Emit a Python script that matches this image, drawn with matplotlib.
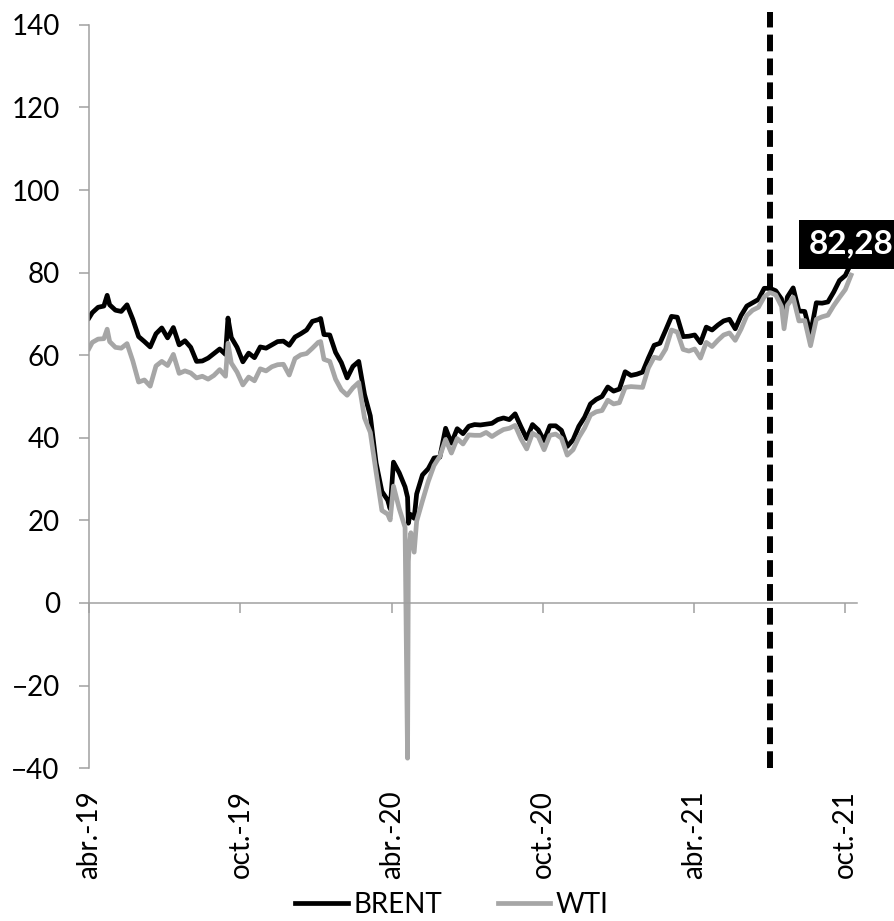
import numpy as np
import pandas as pd
import matplotlib
matplotlib.use("Agg")
from matplotlib import pyplot as plt

plt.rcParams['font.family'] = ['Lato', 'DejaVu Sans']

# weekly closes (Fridays), 2019-04-05 .. 2021-10-08
brent_weekly = [
    70.3, 71.6, 71.9, 72.2,              # abr 19
    70.9, 70.6, 72.2, 68.7, 64.5,        # may
    63.3, 62.0, 65.2, 66.6,              # jun
    64.2, 66.7, 62.5, 63.5,              # jul
    61.9, 58.5, 58.6, 59.3, 60.4,        # ago
    61.5, 60.2, 64.3, 61.9,              # sep
    58.4, 60.5, 59.4, 62.0,              # oct
    61.7, 62.5, 63.3, 63.4, 62.4,        # nov
    64.4, 65.2, 66.1, 68.2,              # dic
    68.6, 65.0, 64.9, 60.7, 58.2,        # ene 20
    54.5, 57.3, 58.5, 50.5,              # feb
    45.3, 33.9, 27.0, 24.9,              # mar
    34.1, 31.5, 28.1, 21.4,              # abr
    26.4, 31.0, 32.5, 35.1, 35.3,        # may
    42.3, 38.7, 42.2, 41.0,              # jun
    42.8, 43.2, 43.1, 43.3, 43.5,        # jul
    44.4, 44.8, 44.4, 45.8,              # ago
    42.7, 39.8, 43.2, 41.9,              # sep
    39.3, 42.9, 42.9, 41.8, 37.9,        # oct
    39.5, 42.8, 45.0, 48.2,              # nov
    49.3, 50.0, 52.3, 51.3,              # dic
    51.8, 56.0, 55.1, 55.4, 55.9,        # ene 21
    59.3, 62.4, 62.9, 66.1,              # feb
    69.4, 69.2, 64.5, 64.6,              # mar
    64.9, 63.0, 66.8, 66.1, 67.3,        # abr
    68.3, 68.7, 66.4, 69.6,              # may
    71.9, 72.7, 73.5, 76.2,              # jun
    76.2, 75.6, 73.6, 74.1, 76.3,        # jul
    70.7, 70.6, 65.2, 72.7,              # ago
    72.6, 72.9, 75.3, 78.1,              # sep
    79.3, 82.28,                         # oct
]
wti_weekly = [
    63.1, 63.9, 64.0, 63.3,
    61.9, 61.7, 62.8, 58.6, 53.5,
    54.0, 52.5, 57.4, 58.5,
    57.5, 60.2, 55.6, 56.2,
    55.7, 54.5, 54.9, 54.2, 55.1,
    56.5, 54.9, 58.1, 55.9,
    52.8, 54.7, 53.8, 56.7,
    56.2, 57.2, 57.7, 57.8, 55.2,
    59.2, 60.1, 60.4, 61.7,
    63.1, 59.0, 58.5, 54.2, 51.6,
    50.3, 52.1, 53.4, 44.8,
    41.3, 31.7, 22.4, 21.5,
    28.3, 22.8, 18.3, 17.0,
    19.8, 24.7, 29.4, 33.3, 35.5,
    39.6, 36.3, 39.8, 38.5,
    40.7, 40.6, 40.6, 41.3, 40.3,
    41.2, 42.0, 42.3, 43.0,
    39.8, 37.3, 41.1, 40.3,
    37.1, 40.6, 40.9, 39.9, 35.8,
    37.1, 40.1, 42.4, 45.5,
    46.3, 46.6, 49.1, 48.2,
    48.5, 52.2, 52.4, 52.3, 52.2,
    56.9, 59.5, 59.2, 61.5,
    66.1, 65.6, 61.4, 61.0,
    61.5, 59.3, 63.1, 62.1, 63.6,
    64.9, 65.4, 63.6, 66.3,
    69.6, 70.9, 71.6, 74.1,
    75.2, 74.6, 71.8, 72.1, 74.0,
    68.3, 68.4, 62.3, 68.7,
    69.3, 69.7, 72.0, 74.0,
    75.9, 79.4,
]

# single days that stand out in the daily series
event_dates = ['2019-04-01', '2019-04-23', '2019-09-16', '2020-01-06', '2020-03-30',
               '2020-04-20', '2020-04-21', '2020-04-22', '2020-04-28', '2021-07-19']
event_brent = [69.0, 74.5, 69.0, 68.9, 22.8, 25.6, 19.3, 20.4, 20.5, 68.6]
event_wti = [61.6, 66.3, 62.9, 63.3, 20.1, -37.6, 10.0, 13.8, 12.3, 66.4]

tick_dates = ['2019-04-01', '2019-10-01', '2020-04-01', '2020-10-01', '2021-04-01', '2021-10-01']
tick_labels = ['abr.-19', 'oct.-19', 'abr.-20', 'oct.-20', 'abr.-21', 'oct.-21']
marker_date = '2021-07-02'

weekly = pd.DataFrame({'BRENT': brent_weekly, 'WTI': wti_weekly},
                      index=pd.date_range('2019-04-05', '2021-10-08', freq='W-FRI'))
events = pd.DataFrame({'BRENT': event_brent, 'WTI': event_wti},
                      index=pd.to_datetime(event_dates))
df = pd.concat([weekly, events]).sort_index()

fig = plt.figure(figsize=(8.95, 9.21), dpi=100)
ax = fig.add_axes([0.0994, 0.166, 0.858, 0.807])

ax.plot(df.index, df['BRENT'], color='black', lw=3.4, label='BRENT', solid_joinstyle='round')
ax.plot(df.index, df['WTI'], color='#a6a6a6', lw=3.4, label='WTI', solid_joinstyle='round')

ax.vlines(pd.Timestamp(marker_date), -40, 143, colors='black', lw=4.3,
          linestyles=(0, (2.8, 1.2)), clip_on=False, zorder=5)

last = df['BRENT'].iloc[-1]
ax.text(df.index[-1], last + 4.6, f"{last:.2f}".replace('.', ','), color='white',
        fontsize=24, fontweight='bold', ha='center', va='center', zorder=6, clip_on=False,
        bbox=dict(boxstyle='square,pad=0.3', fc='black', ec='none'))

ax.set_ylim(-40, 140)
ax.set_xlim(pd.Timestamp('2019-04-01'), pd.Timestamp('2021-10-15'))
ax.set_yticks(np.arange(-40, 141, 20))

grey = '#a0a0a0'
for s in ['top', 'right']:
    ax.spines[s].set_visible(False)
ax.spines['left'].set_color(grey)
ax.spines['left'].set_linewidth(1.1)
ax.spines['bottom'].set_position(('data', 0))
ax.spines['bottom'].set_color(grey)
ax.spines['bottom'].set_linewidth(1.1)

ticks = pd.to_datetime(tick_dates)
ax.set_xticks(ticks)
ax.tick_params(axis='x', direction='out', length=7, width=1.1, color=grey, labelbottom=False)
ax.tick_params(axis='y', direction='out', length=7, width=1.1, color=grey, labelsize=20, pad=14)

sec = ax.secondary_xaxis(0.0)
sec.set_xticks(ticks)
sec.set_xticklabels(tick_labels, rotation=90, fontsize=20)
sec.tick_params(length=0, pad=16)
sec.spines['bottom'].set_visible(False)

fig.legend(loc='lower center', bbox_to_anchor=(0.505, -0.012), ncol=2, frameon=False,
           fontsize=20, handlelength=1.9, handletextpad=0.2, columnspacing=2.0, borderpad=0)

fig.savefig('out.png', dpi=100)
